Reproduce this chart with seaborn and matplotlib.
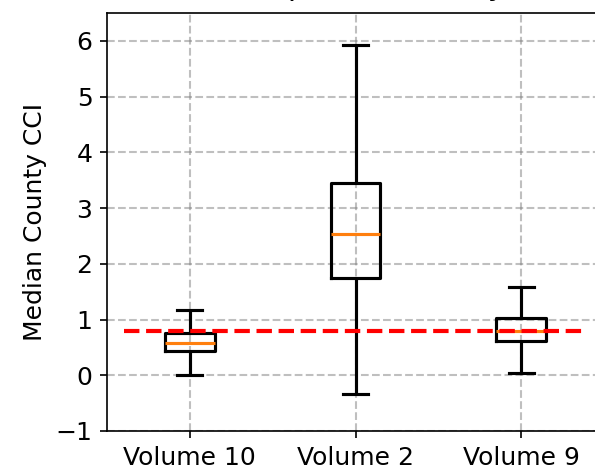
import numpy as np
import pandas as pd
import matplotlib
matplotlib.use("Agg")
import matplotlib.pyplot as plt
import seaborn as sns

# Five-number summaries (min, Q1, median, Q3, max)
volumes = ["Volume 10", "Volume 2", "Volume 9"]
vol10 = [0.00, 0.44, 0.57, 0.76, 1.18]
vol2 = [-0.33, 1.75, 2.53, 3.45, 5.93]
vol9 = [0.04, 0.62, 0.80, 1.02, 1.58]
reference_cci = 0.80

df = pd.DataFrame({
    "volume": np.repeat(volumes, 5),
    "cci": vol10 + vol2 + vol9,
})

plt.rcParams["font.size"] = 12
fig = plt.figure(figsize=(595 / 150, 472 / 150), dpi=150)
# the axes runs a little past the right edge of the picture, as in the original crop
ax = fig.add_axes([107 / 595, 41 / 472, 497 / 595, 418 / 472])

sns.boxplot(data=df, x="volume", y="cci", order=volumes, ax=ax,
            whis=(0, 100), width=0.3, fill=False, color="black",
            linewidth=1.5, medianprops={"color": "C1", "linewidth": 1.5})

ax.hlines(reference_cci, -0.4, 2.4, colors="red", linestyles="--",
          linewidth=2, zorder=5)

ax.set_xlim(-0.5, 2.5)
ax.set_ylim(-1, 6.5)
ax.set_yticks(range(-1, 7))
ax.set_xlabel("")
ax.set_ylabel("Median County CCI")
# title sits mostly above the top edge; only descenders show
ax.set_title("(b) Median per Volume by State", pad=8.5)
ax.grid(True, linestyle="--", color="gray", alpha=0.5, linewidth=1)
ax.set_axisbelow(True)

fig.savefig("out.png", dpi=150)
